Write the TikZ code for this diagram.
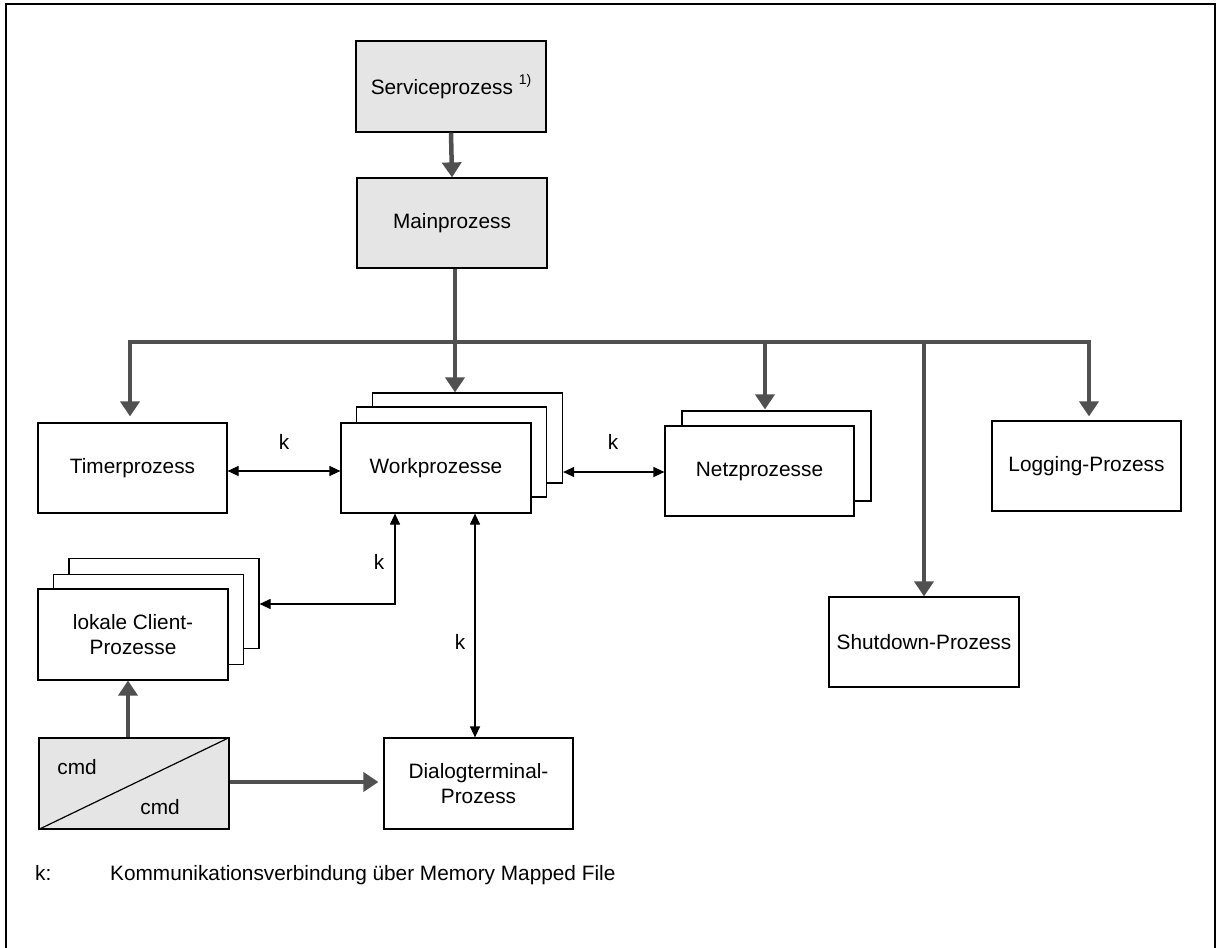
\documentclass[tikz,border=0pt]{standalone}
\usepackage{fontspec}
\setmainfont{Liberation Sans}
\usetikzlibrary{arrows.meta}
\definecolor{thkgray}{HTML}{505050}
\definecolor{boxgray}{HTML}{E5E5E5}
\tikzset{
  bx/.style={draw=black, line width=1.2pt, fill=white, inner sep=0pt, align=center,
    minimum width=190pt, minimum height=90pt},
  gbx/.style={bx, fill=boxgray},
  thk/.style={draw=thkgray, line width=4.5pt, line join=miter},
  thkarr/.style={thk, -{Triangle[width=19pt,length=15pt]}},
  thkarrs/.style={thk, {Triangle[width=19pt,length=15pt]}-{Triangle[width=19pt,length=15pt]}},
  thn/.style={draw=black, line width=1.2pt},
  darr/.style={thn, {Triangle[width=10pt,length=11pt]}-{Triangle[width=10pt,length=11pt]}},
  lbl/.style={inner sep=0pt}
}
\begin{document}
\begin{tikzpicture}[x=1pt,y=-1pt,font=\fontsize{20.8}{25}\selectfont]
\useasboundingbox (0,0) rectangle (1219,948);
% frame
\draw[line width=1.5pt] (6,948) -- (6,4) -- (1215,4) -- (1215,948);

% top boxes
\node[gbx, minimum height=91pt] (serv) at (451,86.5) {Serviceprozess \raisebox{0.5em}{\fontsize{14}{16}\selectfont 1)}};
\node[gbx] (main) at (452,223) {Mainprozess};

% single boxes
\node[bx, minimum width=189pt] (timer) at (132.5,468) {Timerprozess};
\node[bx, minimum width=189pt] (log) at (1086.5,466) {Logging-Prozess};
\node[bx] (shut) at (924,642) {Shutdown-Prozess};

% Workprozesse stack
\node[bx] (workb) at (467.5,438) {};
\node[bx] (workm) at (451.5,452) {};
\node[bx] (workf) at (436,468) {Workprozesse};

% Netzprozesse stack
\node[bx, minimum width=189pt] (netzb) at (776.5,456) {};
\node[bx, minimum width=189pt] (netzf) at (759.5,471) {Netzprozesse};

% lokale Client-Prozesse stack
\node[bx] (clientb) at (164,603.5) {};
\node[bx] (clientm) at (148.5,619.5) {};
\node[bx, minimum height=91pt] (clientf) at (133,634.5) {lokale Client-\\Prozesse};

% cmd and Dialogterminal
\node[gbx, minimum height=91pt] (cmd) at (134,783.5) {};
\draw[line width=1.2pt] (cmd.south west) -- (cmd.north east);
\node[lbl] (cmd1) at (77,767) {cmd};
\node[lbl] (cmd2) at (160,807) {cmd};
\node[bx, minimum width=189pt, minimum height=91pt] (dialog) at (478.5,783.5) {Dialogterminal-\\Prozess};

% thick connectors
\draw[thkarr] (serv.south) -- (main.north);
\coordinate (bj) at (455,342);
\coordinate (bl) at (130,342);
\coordinate (br) at (1089,342);
\draw[thk] (main.south -| bj) -- (bj);
\draw[thkarrs] ([yshift=6pt]timer.north -| bl) -- (bl) -- (br) -- ([yshift=4pt]log.north -| br);
\draw[thkarr] (bj) -- (workb.north -| bj);
\coordinate (bn) at (765,342);
\draw[thkarr] (bn) -- ([yshift=1pt]netzb.north -| bn);
\coordinate (bs) at (924,342);
\draw[thkarr] (bs) -- (shut.north);
\coordinate (cu) at (128,738);
\draw[thkarr] (cmd.north -| cu) -- (clientf.south -| cu);
\coordinate (cr) at (229,782);
\draw[thkarr] (cmd.east |- cr) -- ([xshift=-5pt]dialog.west |- cr);

% thin connectors (k)
\coordinate (k1) at (0,471);
\draw[darr] (timer.east |- k1) -- (workf.west |- k1);
\coordinate (k2) at (0,472);
\draw[darr] (workb.east |- k2) -- (netzf.west |- k2);
\coordinate (k3) at (395,604);
\draw[darr] (workf.south -| k3) -- (k3) -- (clientb.east |- k3);
\coordinate (k4) at (475,0);
\draw[darr] (workf.south -| k4) -- (dialog.north -| k4);

\node[lbl] (lk1) at (284,442) {k};
\node[lbl] (lk2) at (613,442) {k};
\node[lbl] (lk3) at (379,562) {k};
\node[lbl] (lk4) at (460,642) {k};

% legend
\node[lbl, anchor=base west] (legk) at (35,880) {k:};
\node[lbl, anchor=base west] (legt) at (110,880) {Kommunikationsverbindung über Memory Mapped File};
\end{tikzpicture}
\end{document}
